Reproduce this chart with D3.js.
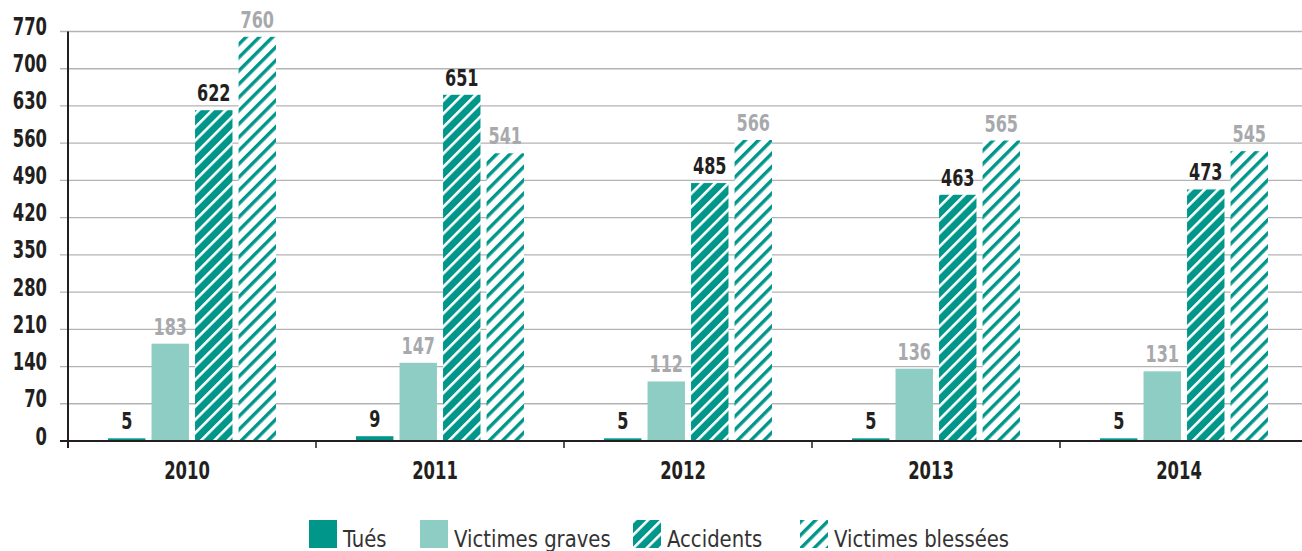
<!DOCTYPE html>
<html>
<head>
<meta charset="utf-8">
<script src="https://cdn.jsdelivr.net/npm/d3@7"></script>
<style>
  body { margin: 0; background: #fff; }
  svg { display: block; font-family: "DejaVu Sans Condensed", "DejaVu Sans", sans-serif; }
</style>
</head>
<body>
<svg width="1302" height="551"></svg>
<script>
const years = ["2010", "2011", "2012", "2013", "2014"];
const series = ["Tués", "Victimes graves", "Accidents", "Victimes blessées"];
const tues = [5, 9, 5, 5, 5];
const graves = [183, 147, 112, 136, 131];
const accidents = [622, 651, 485, 463, 473];
const blessees = [760, 541, 566, 565, 545];
const yTicks = [0, 70, 140, 210, 280, 350, 420, 490, 560, 630, 700, 770];

const values = [tues, graves, accidents, blessees];
const teal = "#00968a", light = "#8ecdc4";
const fills = [teal, light, "url(#hatchDark)", "url(#hatchLight)"];
const labelColors = ["#231f20", "#a7a9ac", "#231f20", "#a7a9ac"];
const sq = 0.76; // horizontal squeeze to mimic the condensed font

const svg = d3.select("svg");
const defs = svg.append("defs");

// diagonal hatches
const p1 = defs.append("pattern").attr("id", "hatchDark")
  .attr("patternUnits", "userSpaceOnUse").attr("width", 9.4).attr("height", 9.4)
  .attr("patternTransform", "rotate(45)");
p1.append("rect").attr("width", 9.4).attr("height", 9.4).attr("fill", teal);
p1.append("rect").attr("x", 0).attr("width", 2.6).attr("height", 9.4).attr("fill", "#fff");

const p2 = defs.append("pattern").attr("id", "hatchLight")
  .attr("patternUnits", "userSpaceOnUse").attr("width", 9.4).attr("height", 9.4)
  .attr("patternTransform", "rotate(45)");
p2.append("rect").attr("width", 9.4).attr("height", 9.4).attr("fill", "#fff");
p2.append("rect").attr("x", 0).attr("width", 3.4).attr("height", 9.4).attr("fill", teal);

const m = { left: 68, right: 1308, top: 31.5, bottom: 441 };

const x0 = d3.scaleBand().domain(years).range([m.left, m.right]).padding(0);
const x1 = d3.scaleBand().domain(series).range([40, 208]).paddingInner(0.14).paddingOuter(0);
const y = d3.scaleLinear().domain([0, 770]).range([m.bottom, m.top]);

// grid
svg.append("g")
  .selectAll("line")
  .data(yTicks.filter(d => d > 0))
  .join("line")
  .attr("x1", m.left - 8).attr("x2", 1302)
  .attr("y1", d => y(d)).attr("y2", d => y(d))
  .attr("stroke", "#b3b3b3").attr("stroke-width", 1.3);

// y labels
svg.append("g")
  .selectAll("text")
  .data(yTicks)
  .join("text")
  .attr("transform", d => `translate(47,${y(d) + 3.5}) scale(${sq},1)`)
  .attr("text-anchor", "end")
  .attr("font-size", 24).attr("font-weight", "bold").attr("fill", "#231f20")
  .text(d => d);

// bars
const groups = svg.append("g")
  .selectAll("g")
  .data(years)
  .join("g")
  .attr("transform", d => `translate(${x0(d)},0)`);

groups.selectAll("rect")
  .data((d, i) => series.map((s, j) => ({ s, j, v: values[j][i] })))
  .join("rect")
  .attr("x", d => x1(d.s))
  .attr("y", d => y(d.v))
  .attr("width", x1.bandwidth())
  .attr("height", d => m.bottom - y(d.v))
  .attr("fill", d => fills[d.j]);

groups.selectAll("text")
  .data((d, i) => series.map((s, j) => ({ s, j, v: values[j][i] })))
  .join("text")
  .attr("transform", d => `translate(${x1(d.s) + x1.bandwidth() / 2},${y(d.v) - 9}) scale(${sq},1)`)
  .attr("text-anchor", "middle")
  .attr("font-size", 23.5).attr("font-weight", "bold")
  .attr("fill", d => labelColors[d.j])
  .text(d => d.v);

// axes lines
svg.append("line").attr("x1", m.left).attr("x2", m.left).attr("y1", m.top).attr("y2", m.bottom + 7)
  .attr("stroke", "#231f20").attr("stroke-width", 2);
svg.append("line").attr("x1", m.left - 8).attr("x2", 1302).attr("y1", m.bottom).attr("y2", m.bottom)
  .attr("stroke", "#231f20").attr("stroke-width", 2);
svg.append("g")
  .selectAll("line")
  .data(years)
  .join("line")
  .attr("x1", d => x0(d)).attr("x2", d => x0(d))
  .attr("y1", m.bottom).attr("y2", m.bottom + 7)
  .attr("stroke", "#231f20").attr("stroke-width", 1.5);

svg.append("g")
  .selectAll("text")
  .data(years)
  .join("text")
  .attr("transform", d => `translate(${x0(d) + x0.bandwidth() / 2 - 5},479) scale(${sq},1)`)
  .attr("text-anchor", "middle")
  .attr("font-size", 24).attr("font-weight", "bold").attr("fill", "#231f20")
  .text(d => d);

// legend
const legendX = [309, 420, 633, 800];
const legend = svg.append("g")
  .selectAll("g")
  .data(series)
  .join("g")
  .attr("transform", (d, i) => `translate(${legendX[i]},520)`);
legend.append("rect").attr("width", 28).attr("height", 28)
  .attr("fill", (d, i) => fills[i]);
legend.append("text")
  .attr("transform", "translate(34,27) scale(0.93,1)")
  .attr("font-size", 23.5).attr("fill", "#333")
  .text(d => d);
</script>
</body>
</html>
